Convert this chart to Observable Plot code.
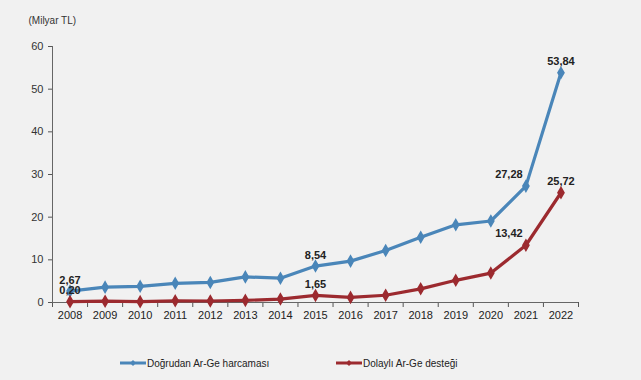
<!DOCTYPE html>
<html>
<head>
<meta charset="utf-8">
<script src="https://cdn.jsdelivr.net/npm/d3@7"></script>
<script src="https://cdn.jsdelivr.net/npm/@observablehq/plot@0.6"></script>
<style>
  html, body { margin: 0; padding: 0; background: #f1f1f1; }
  #wrap { position: relative; width: 641px; height: 380px; background: #f1f1f1; font-family: "Liberation Sans", Arial, sans-serif; }
  .leg { position: absolute; top: 357px; display: flex; align-items: center; font-size: 10px; color: #222; }
  .leg svg { margin-right: 1px; }
</style>
</head>
<body>
<div id="wrap"></div>
<script>
const years = [2008, 2009, 2010, 2011, 2012, 2013, 2014, 2015, 2016, 2017, 2018, 2019, 2020, 2021, 2022];
const direct = [2.67, 3.6, 3.8, 4.5, 4.7, 6.0, 5.7, 8.54, 9.7, 12.2, 15.3, 18.2, 19.1, 27.28, 53.84];
const indirect = [0.20, 0.3, 0.2, 0.4, 0.35, 0.5, 0.8, 1.65, 1.2, 1.7, 3.2, 5.2, 6.9, 13.42, 25.72];
const seriesNames = ["Doğrudan Ar-Ge harcaması", "Dolaylı Ar-Ge desteği"];
const colors = ["#4a86b9", "#9c2a2f"];
const yTicks = [0, 10, 20, 30, 40, 50, 60];
const labelYears = [2008, 2015, 2021, 2022];
const unitLabel = "(Milyar TL)";

const fmt = v => v.toFixed(2).replace(".", ",");
const rows = [];
years.forEach((yr, i) => {
  rows.push({year: yr, value: direct[i], series: seriesNames[0]});
  rows.push({year: yr, value: indirect[i], series: seriesNames[1]});
});
const labeled = rows.filter(d => labelYears.includes(d.year));
const lblMain = labeled.filter(d => d.year !== 2021);
const lbl2021 = labeled.filter(d => d.year === 2021);
const bounds = years.map(y => y - 0.5).concat([years[years.length - 1] + 0.5]);

const chart = Plot.plot({
  width: 641,
  height: 330,
  marginLeft: 52,
  marginRight: 63,
  marginTop: 46,
  marginBottom: 28,
  style: {background: "#f1f1f1", fontFamily: "Liberation Sans, Arial, sans-serif", fontSize: "11px", color: "#333"},
  x: {domain: [2007.5, 2022.5]},
  y: {domain: [0, 60]},
  color: {domain: seriesNames, range: colors},
  marks: [
    Plot.axisY({ticks: yTicks, tickSize: 4, tickPadding: 5, label: null, stroke: "#555", fontSize: 11, fill: "#333"}),
    Plot.axisX({ticks: bounds, tickSize: 5, tickFormat: () => "", label: null, stroke: "#555"}),
    Plot.axisX({ticks: years, tickSize: 0, tickPadding: 9, tickFormat: d => String(d), label: null, fontSize: 11, fill: "#222"}),
    Plot.ruleX([2007.5], {stroke: "#666"}),
    Plot.ruleY([0], {stroke: "#666"}),
    Plot.text([unitLabel], {frameAnchor: "top-left", dx: -24, dy: -30, text: d => d, fontSize: 10, fill: "#333"}),
    Plot.line(rows, {x: "year", y: "value", stroke: "series", strokeWidth: 3.2, curve: "linear"}),
    Plot.dot(rows, {x: "year", y: "value", fill: "series", symbol: "diamond", r: 3.2, stroke: "series"}),
    Plot.text(lblMain, {x: "year", y: "value", text: d => fmt(d.value), dy: -11, fontSize: 11, fill: "#222", fontWeight: "bold", stroke: "#f1f1f1", strokeWidth: 0}),
    Plot.text(lbl2021, {x: "year", y: "value", text: d => fmt(d.value), dx: -17, dy: -12, fontSize: 11, fill: "#222", fontWeight: "bold"})
  ]
});
const wrap = document.getElementById("wrap");
wrap.appendChild(chart);

const legPos = [120, 336];
seriesNames.forEach((name, i) => {
  const item = document.createElement("div");
  item.className = "leg";
  item.style.left = legPos[i] + "px";
  item.innerHTML = `<svg width="26" height="12"><line x1="0" y1="6" x2="26" y2="6" stroke="${colors[i]}" stroke-width="3"/><path d="M13 3 L16 6 L13 9 L10 6 Z" fill="${colors[i]}"/></svg><span>${name}</span>`;
  wrap.appendChild(item);
});
</script>
</body>
</html>
